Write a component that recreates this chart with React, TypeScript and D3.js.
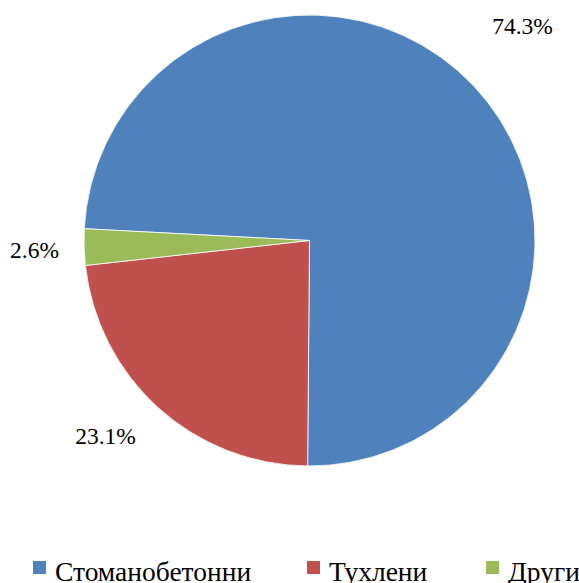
import React from "react";
import * as d3 from "d3";

const categories = ["Стоманобетонни", "Тухлени", "Други"];
const values = [74.3, 23.1, 2.6];
const labels = ["74.3%", "23.1%", "2.6%"];
const colors = ["#4F81BD", "#C0504D", "#9BBB59"];

const width = 579;
const height = 583;
const cx = 309.5;
const cy = 240.5;
const r = 225.5;

// Excel best-fit label spots, and legend entries
const labelPos = [[522.5, 34], [105.5, 444], [34.5, 258]];
const legendX = [33, 307, 486];

export default function App() {
  const start = (-87 * Math.PI) / 180;
  const pie = d3.pie<number>().sort(null).value(d => d).startAngle(start).endAngle(start + 2 * Math.PI);
  const arcs = pie(values);
  const arc = d3.arc<d3.PieArcDatum<number>>().innerRadius(0).outerRadius(r);

  return (
    <svg width={width} height={height} style={{ position: "absolute", left: 0, top: 0 }}>
      <g transform={`translate(${cx},${cy})`}>
        {arcs.map((a, i) => (
          <path key={i} d={arc(a) || ""} fill={colors[i]} stroke="#fff" strokeWidth={0.8} />
        ))}
      </g>
      {labels.map((l, i) => (
        <text key={i} x={labelPos[i][0]} y={labelPos[i][1]} textAnchor="middle"
          fontFamily="Liberation Serif" fontSize={23.5} fill="#000">{l}</text>
      ))}
      {categories.map((c, i) => (
        <g key={c} transform={`translate(${legendX[i]},561)`}>
          <rect width={13} height={13} fill={colors[i]} />
          <text x={22} y={20} fontFamily="Liberation Serif" fontSize={27.5} fill="#000">{c}</text>
        </g>
      ))}
    </svg>
  );
}
